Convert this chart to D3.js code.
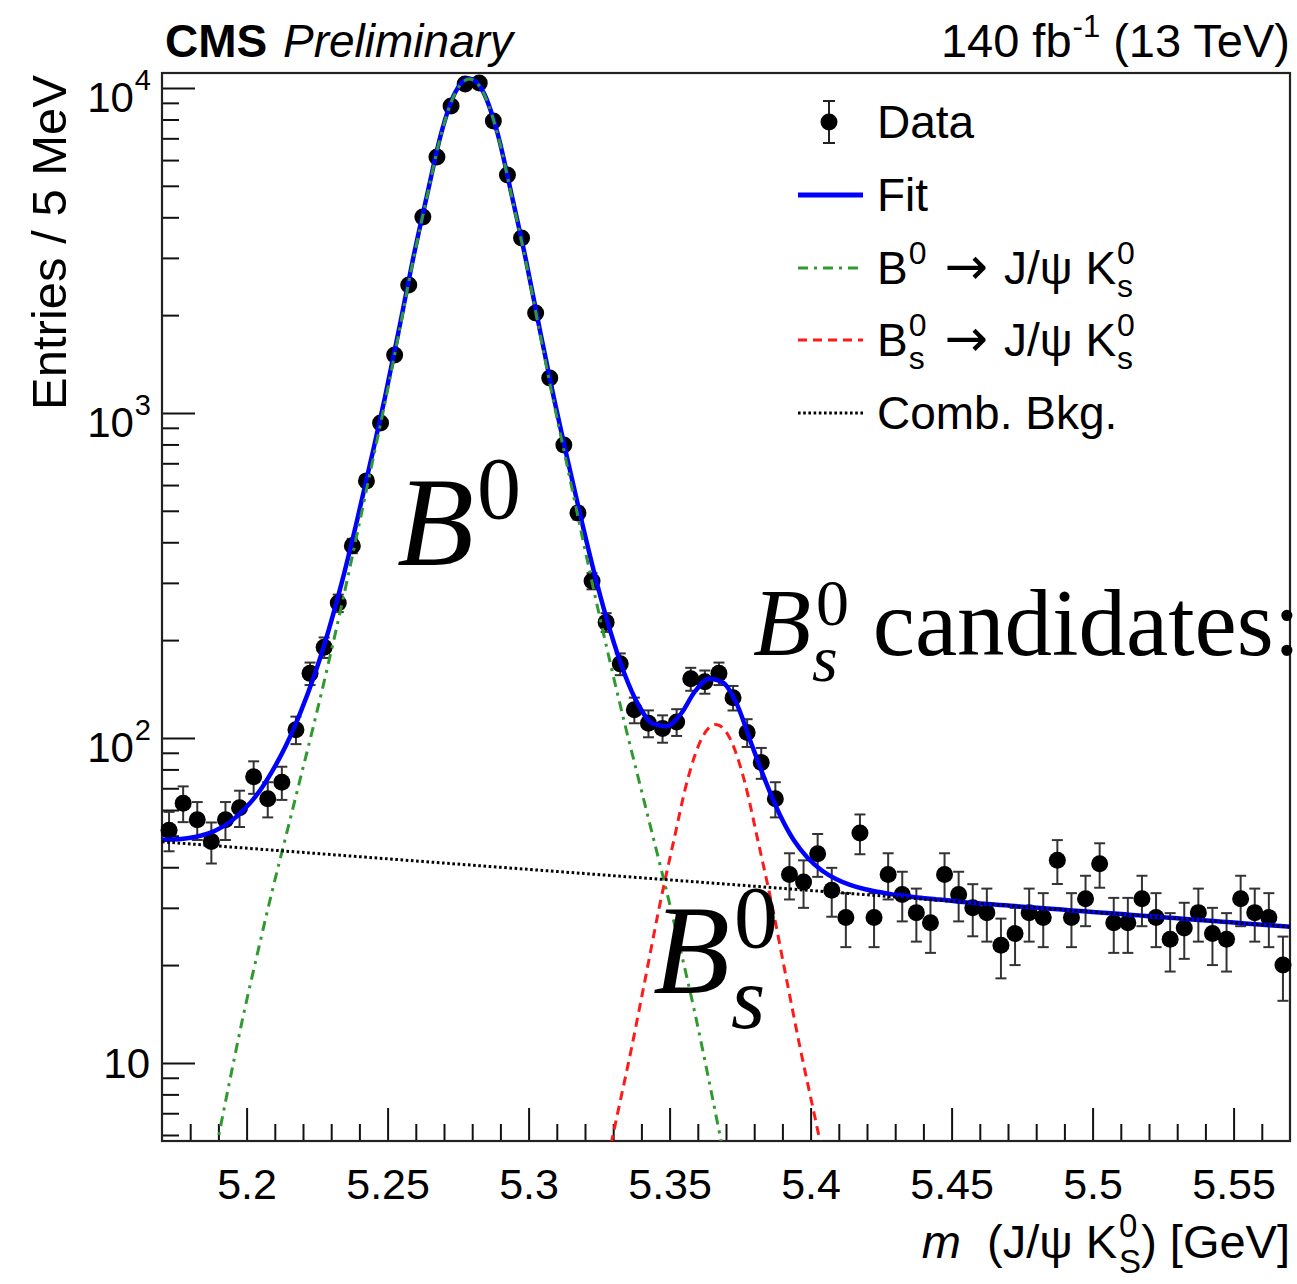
<!DOCTYPE html>
<html>
<head>
<meta charset="utf-8">
<script src="https://cdn.jsdelivr.net/npm/d3@7"></script>
<style>
  html, body { margin: 0; padding: 0; background: #fff; }
  svg { display: block; }
  svg text { white-space: pre; }
</style>
</head>
<body>
<svg id="chart" width="1297" height="1284"></svg>
<script>
// ---------------------------------------------------------------------------
// Invariant-mass spectrum of J/psi K0s candidates, 5 MeV bins
// ---------------------------------------------------------------------------
const massLow = 5.17, massHigh = 5.57, binWidth = 0.005;
const yLow = 5.75, yHigh = 11120;

// entries per bin (80 bins, 5.170 - 5.570 GeV)
const entries = [
  52, 63, 56, 48, 56, 61, 76, 65, 73, 106,
  158, 190, 260, 390, 618, 931, 1507, 2477, 4009, 6135,
  8805, 10280, 10360, 7912, 5400, 3453, 2031, 1282, 797, 492,
  304, 227, 169, 122, 111, 107, 112, 152, 149, 158,
  133, 104, 84, 65, 38, 36, 44, 34, 28, 51,
  28, 38, 33, 29, 27, 38, 33, 30, 29, 23,
  25, 29, 28, 42, 28, 32, 41, 27, 27, 32,
  28, 24, 26, 29, 25, 24, 32, 29, 28, 20
];
const binCentres = entries.map((_, i) => +(massLow + (i + 0.5) * binWidth).toFixed(4));

// total fit curve, sampled every 5 MeV from 5.169 GeV
const fitMass = d3.range(82).map(n => +(5.169 + 0.005 * n).toFixed(3));
const fitTotal = [
  48.6, 48.7, 49.1, 50.1, 51.9, 55.0, 60.1, 67.5, 78.8, 94.9,
  119.2, 155.6, 213.3, 306.5, 460.2, 709.9, 1110.5, 1802, 2974, 4685,
  7252, 9696, 10691, 9695, 7251, 4683, 2971, 1800, 1108, 707,
  457.5, 304.5, 212.7, 157.6, 126.1, 110.7, 108.7, 118.6, 139.0, 152.2,
  147.9, 126.2, 96.0, 73.6, 58.2, 48.5, 42.7, 39.1, 36.8, 35.3,
  34.3, 33.6, 33.0, 32.6, 32.2, 31.9, 31.6, 31.24, 31.01, 30.77,
  30.54, 30.31, 30.09, 29.86, 29.64, 29.41, 29.19, 28.97, 28.76, 28.54,
  28.33, 28.11, 27.90, 27.69, 27.49, 27.28, 27.07, 26.87, 26.67, 26.47,
  26.27, 26.07
];

// B0 -> J/psi K0s component
const b0Mass = d3.range(39).map(n => +(5.184 + 0.005 * n).toFixed(3));
const b0Signal = [
  3.18, 5.33, 8.79, 14.2, 22.0, 33.6, 50.1, 74.7, 111.4, 169.5,
  263, 417, 667, 1068, 1760, 2932, 4643, 7211, 9655, 10650,
  9655, 7211, 4643, 2932, 1760, 1068, 667, 417, 263, 169.5,
  111.4, 74.7, 50.1, 33.6, 22.0, 14.2, 8.79, 5.33, 3.18
];

// Bs0 -> J/psi K0s component
const bsMass = d3.range(19).map(n => +(5.3214 + 0.005 * n).toFixed(4));
const bsSignal = [
  2.72, 4.31, 6.89, 11.0, 18.2, 30.3, 47.96, 74.5, 99.7, 110,
  99.7, 74.5, 47.96, 30.3, 18.2, 11.0, 6.89, 4.31, 2.72
];

// combinatorial background
const bkgMass = [5.17, 5.27, 5.37, 5.47, 5.57];
const bkgLevel = [47.9, 41.2, 35.5, 30.5, 26.2];

// axis ticks
const xMajorTicks = [5.2, 5.25, 5.3, 5.35, 5.4, 5.45, 5.5, 5.55];
const xTickLabels = ["5.2", "5.25", "5.3", "5.35", "5.4", "5.45", "5.5", "5.55"];
const xMinorTicks = d3.range(518, 557).filter(v => v % 5 !== 0).map(v => v / 100);
const yMajorTicks = [10, 100, 1000, 10000];
const yTickExponents = ["", "2", "3", "4"];
const yMinorTicks = [6, 7, 8, 9, 20, 30, 40, 50, 60, 70, 80, 90,
  200, 300, 400, 500, 600, 700, 800, 900,
  2000, 3000, 4000, 5000, 6000, 7000, 8000, 9000];

// ---------------------------------------------------------------------------
const SANS = "'Liberation Sans', Arial, Helvetica, sans-serif";
const SERIF = "'Liberation Serif', 'Times New Roman', serif";
const ARROW = "'DejaVu Sans', sans-serif";
const GREEN = "#2f9a2f", RED = "#ff1a1a", BLUE = "#0000ff";

const frame = { left: 162, right: 1290, top: 73, bottom: 1141 };
const svg = d3.select("#chart");

const x = d3.scaleLinear().domain([massLow, massHigh]).range([frame.left, frame.right]);
const y = d3.scaleLog().domain([yLow, yHigh]).range([frame.bottom, frame.top]);

svg.append("defs").append("clipPath").attr("id", "plot-clip")
  .append("rect")
  .attr("x", frame.left).attr("y", frame.top)
  .attr("width", frame.right - frame.left).attr("height", frame.bottom - frame.top);

// one <text> built from tspans (superscripts, subscripts, stacked indices)
function richText(parent, px, py, parts, base) {
  const g = parent.append("g");
  const txt = g.append("text")
    .attr("font-family", base.family || SANS)
    .attr("font-size", base.size)
    .attr("fill", "#000");
  let cx = 0, held = 0;
  parts.forEach(p => {
    const s = txt.append("tspan")
      .attr("x", cx + (p.dx || 0))
      .attr("y", p.shift || 0)
      .text(p.t);
    if (p.size) s.attr("font-size", p.size);
    if (p.italic) s.attr("font-style", "italic");
    if (p.bold) s.attr("font-weight", "bold");
    if (p.family) s.attr("font-family", p.family);
    const w = s.node().getComputedTextLength() + (p.dx || 0);
    if (p.keep) held = Math.max(held, w);
    else { cx += Math.max(held, w); held = 0; }
  });
  const total = cx + held;
  const off = base.anchor === "end" ? -total : base.anchor === "middle" ? -total / 2 : 0;
  g.attr("transform", `translate(${px + off},${py})`);
  return g;
}

// ---------------------------------------------------------------------------
// axes
const axisG = svg.append("g");

axisG.append("g")
  .attr("transform", `translate(0,${frame.bottom})`)
  .call(d3.axisBottom(x).tickValues(xMinorTicks).tickSize(-17).tickFormat(""))
  .call(g => g.select(".domain").remove());

axisG.append("g")
  .attr("transform", `translate(0,${frame.bottom})`)
  .call(d3.axisBottom(x).tickValues(xMajorTicks).tickSize(-33).tickPadding(27)
    .tickFormat((d, i) => xTickLabels[i]))
  .call(g => g.select(".domain").remove())
  .call(g => g.selectAll("text")
    .attr("font-family", SANS).attr("font-size", 43).attr("fill", "#000"));

axisG.append("g")
  .attr("transform", `translate(${frame.left},0)`)
  .call(d3.axisLeft(y).tickValues(yMinorTicks).tickSize(-17).tickFormat(""))
  .call(g => g.select(".domain").remove());

axisG.append("g")
  .attr("transform", `translate(${frame.left},0)`)
  .call(d3.axisLeft(y).tickValues(yMajorTicks).tickSize(-33).tickFormat(""))
  .call(g => g.select(".domain").remove());

axisG.selectAll(".tick line").attr("stroke", "#111").attr("stroke-width", 2);

// y tick labels: 10, 10^2, 10^3, 10^4
yMajorTicks.forEach((v, i) => {
  const ty = y(v);
  if (yTickExponents[i] === "") {
    richText(svg, 150, ty + 15, [{ t: "10" }], { size: 42, anchor: "end" });
  } else {
    richText(svg, 151, ty + 24, [
      { t: "10" },
      { t: yTickExponents[i], size: 29, shift: -22, dx: 1 }
    ], { size: 42, anchor: "end" });
  }
});

// frame
svg.append("rect")
  .attr("x", frame.left).attr("y", frame.top)
  .attr("width", frame.right - frame.left).attr("height", frame.bottom - frame.top)
  .attr("fill", "none").attr("stroke", "#222").attr("stroke-width", 2.2);

// ---------------------------------------------------------------------------
// data points with Poisson uncertainties
const dataG = svg.append("g");
const pts = entries.map((n, i) => ({ m: binCentres[i], n, e: Math.sqrt(n) }));

dataG.selectAll("line.err").data(pts).join("line")
  .attr("class", "err")
  .attr("x1", d => x(d.m)).attr("x2", d => x(d.m))
  .attr("y1", d => y(d.n + d.e)).attr("y2", d => y(Math.max(d.n - d.e, yLow)))
  .attr("stroke", "#333").attr("stroke-width", 2);

["hi", "lo"].forEach(side => {
  dataG.selectAll("line.cap-" + side).data(pts).join("line")
    .attr("class", "cap-" + side)
    .attr("x1", d => x(d.m) - 5.5).attr("x2", d => x(d.m) + 5.5)
    .attr("y1", d => y(side === "hi" ? d.n + d.e : d.n - d.e))
    .attr("y2", d => y(side === "hi" ? d.n + d.e : d.n - d.e))
    .attr("stroke", "#333").attr("stroke-width", 2);
});

dataG.selectAll("circle").data(pts).join("circle")
  .attr("cx", d => x(d.m)).attr("cy", d => y(d.n))
  .attr("r", 8.5).attr("fill", "#000");

// ---------------------------------------------------------------------------
// fit curves
const curveG = svg.append("g").attr("clip-path", "url(#plot-clip)");
const line = d3.line().x(d => x(d[0])).y(d => y(d[1])).curve(d3.curveMonotoneX);
const linear = d3.line().x(d => x(d[0])).y(d => y(d[1]));

curveG.append("path")
  .attr("d", line(d3.zip(fitMass, fitTotal)))
  .attr("fill", "none").attr("stroke", BLUE).attr("stroke-width", 4.5);

curveG.append("path")
  .attr("d", line(d3.zip(b0Mass, b0Signal)))
  .attr("fill", "none").attr("stroke", GREEN).attr("stroke-width", 3)
  .attr("stroke-dasharray", "10,6,3,6");

curveG.append("path")
  .attr("d", line(d3.zip(bsMass, bsSignal)))
  .attr("fill", "none").attr("stroke", RED).attr("stroke-width", 3)
  .attr("stroke-dasharray", "9,6");

curveG.append("path")
  .attr("d", linear(d3.zip(bkgMass, bkgLevel)))
  .attr("fill", "none").attr("stroke", "#000").attr("stroke-width", 3)
  .attr("stroke-dasharray", "2.6,2.6");

// ---------------------------------------------------------------------------
// legend
const decayTail = [
  { t: "\u2192", family: ARROW, size: 52, dx: 18 },
  { t: "J/\u03c8 K", dx: 16 },
  { t: "0", size: 32, shift: -20, dx: 1, keep: true }, { t: "s", size: 32, shift: 13, dx: 1 }
];
const legendRows = [
  { kind: "data", parts: [{ t: "Data" }] },
  { kind: "line", color: BLUE, width: 5, dash: null, parts: [{ t: "Fit" }] },
  { kind: "line", color: GREEN, width: 3, dash: "10,6,3,6", parts: [
    { t: "B" }, { t: "0", size: 32, shift: -20, dx: 1 }, ...decayTail
  ] },
  { kind: "line", color: RED, width: 3, dash: "9,6", parts: [
    { t: "B" }, { t: "0", size: 32, shift: -20, dx: 1, keep: true }, { t: "s", size: 32, shift: 13, dx: 1 },
    ...decayTail
  ] },
  { kind: "line", color: "#000", width: 3, dash: "2.6,2.6", parts: [{ t: "Comb. Bkg." }] }
];
const legendY = [122, 195, 268, 340, 413];
const legendG = svg.append("g");

legendRows.forEach((row, i) => {
  const ly = legendY[i];
  if (row.kind === "data") {
    legendG.append("line").attr("x1", 829).attr("x2", 829).attr("y1", ly - 21).attr("y2", ly + 21)
      .attr("stroke", "#222").attr("stroke-width", 2);
    [ly - 21, ly + 21].forEach(cy => legendG.append("line")
      .attr("x1", 823).attr("x2", 835).attr("y1", cy).attr("y2", cy)
      .attr("stroke", "#222").attr("stroke-width", 2));
    legendG.append("circle").attr("cx", 829).attr("cy", ly).attr("r", 8.5).attr("fill", "#000");
  } else {
    legendG.append("line").attr("x1", 798).attr("x2", 863).attr("y1", ly).attr("y2", ly)
      .attr("stroke", row.color).attr("stroke-width", row.width)
      .attr("stroke-dasharray", row.dash);
  }
  richText(legendG, 877, ly + 16, row.parts, { size: 46 });
});

// ---------------------------------------------------------------------------
// header
richText(svg, 165, 57, [{ t: "CMS", bold: true }], { size: 46 });
richText(svg, 283, 57, [{ t: "Preliminary", italic: true }], { size: 46 });
richText(svg, 1290, 57, [
  { t: "140 fb" }, { t: "-1", size: 31, shift: -20, dx: 1 }, { t: " (13 TeV)" }
], { size: 47, anchor: "end" });

// axis titles
richText(svg, 1290, 1258, [
  { t: "m", italic: true }, { t: "  (J/\u03c8 K" },
  { t: "0", size: 33, shift: -21, dx: 2, keep: true }, { t: "S", size: 33, shift: 15, dx: 2 },
  { t: ") [GeV]" }
], { size: 47, anchor: "end" });

svg.append("text")
  .attr("transform", "translate(66,75) rotate(-90)")
  .attr("text-anchor", "end")
  .attr("font-family", SANS).attr("font-size", 49).attr("fill", "#000")
  .text("Entries / 5 MeV");

// ---------------------------------------------------------------------------
// peak annotations
richText(svg, 397, 565, [
  { t: "B", italic: true }, { t: "0", size: 88, shift: -47, dx: 3 }
], { size: 126, family: SERIF });

richText(svg, 753, 655, [
  { t: "B", italic: true },
  { t: "0", size: 66, shift: -30, dx: 5, keep: true },
  { t: "s", italic: true, size: 66, shift: 26, dx: 1 },
  { t: " candidates:" }
], { size: 95, family: SERIF });

richText(svg, 653, 993, [
  { t: "B", italic: true },
  { t: "0", size: 88, shift: -46, dx: 4, keep: true },
  { t: "s", italic: true, size: 88, shift: 35, dx: 1 }
], { size: 126, family: SERIF });
</script>
</body>
</html>
